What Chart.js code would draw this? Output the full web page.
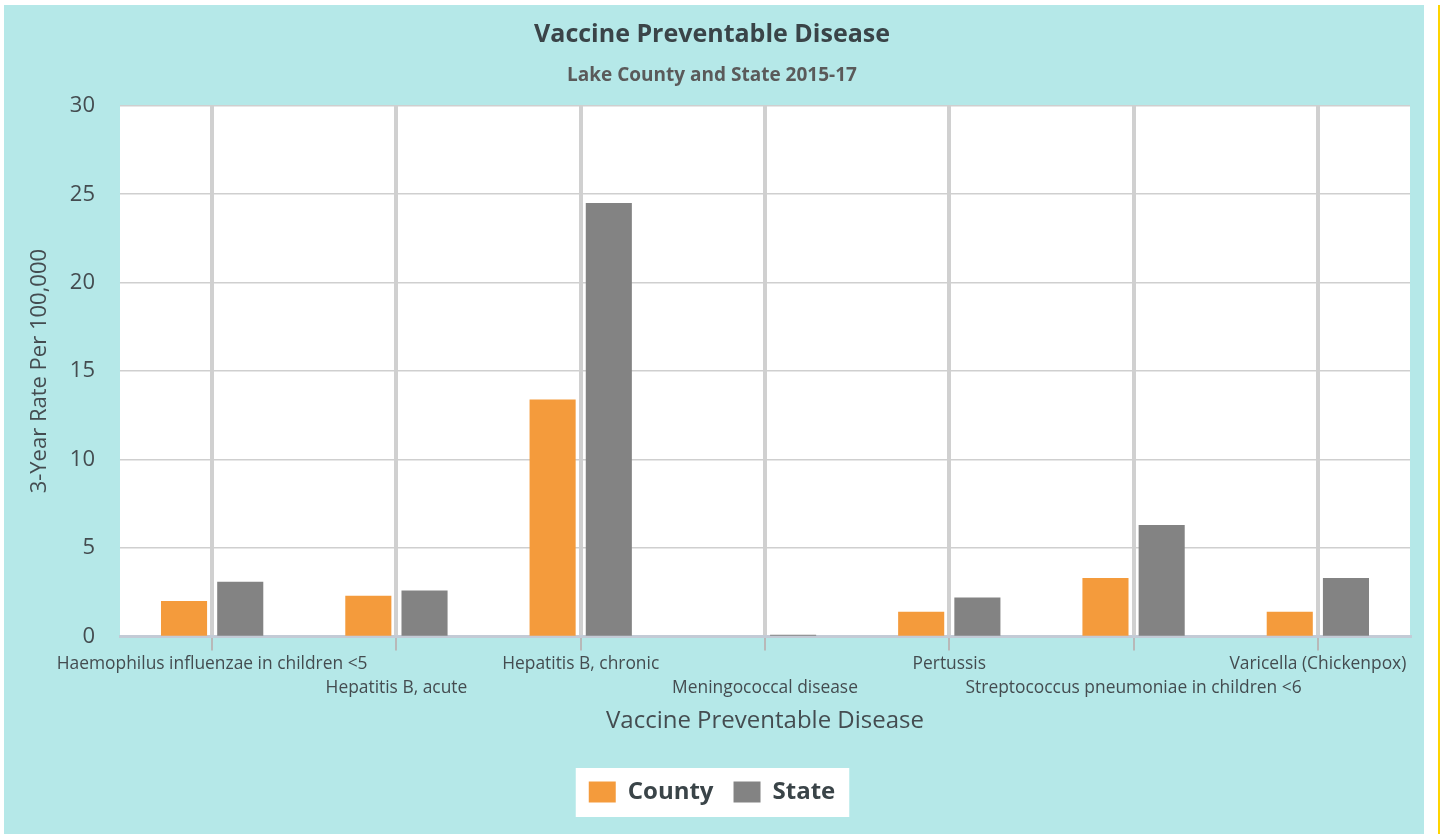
<!DOCTYPE html>
<html>
<head>
<meta charset="utf-8">
<script src="https://cdn.jsdelivr.net/npm/chart.js@4"></script>
<style>
  body { margin: 0; background: #ffffff; }
  #box { position: absolute; left: 4px; top: 5px; width: 1420px; height: 829px; background: #b5e8e8; }
  #rule { position: absolute; left: 1438px; top: 5px; width: 2px; height: 829px; background: #ffd400; }
</style>
</head>
<body>
<div id="box"><canvas id="vpdChart"></canvas></div>
<div id="rule"></div>
<script>
//data
const diseases = [
    'Haemophilus influenzae in children <5',
    'Hepatitis B, acute',
    'Hepatitis B, chronic',
    'Meningococcal disease',
    'Pertussis',
    'Streptococcus pneumoniae in children <6',
    'Varicella (Chickenpox)'
];
const countyRates = [2.0, 2.3, 13.4, 0, 1.4, 3.3, 1.4];
const stateRates = [3.1, 2.6, 24.5, 0.1, 2.2, 6.3, 3.3];

const font = "'Open Sans', 'Noto Sans', sans-serif";

//white plot area + white box behind the legend items
const plotBackground = {
    id: 'plotBackground',
    beforeDraw(chart) {
        const c = chart.ctx, a = chart.chartArea;
        c.save();
        c.fillStyle = '#ffffff';
        c.fillRect(a.left, a.top, a.right - a.left, a.bottom - a.top);
        const hits = chart.legend.legendHitBoxes;
        if (hits && hits.length) {
            const first = hits[0], last = hits[hits.length - 1];
            const x0 = first.left - 13, x1 = last.left + last.width + 14;
            const y0 = first.top - 12, y1 = first.top + first.height + 13;
            c.fillRect(x0, y0, x1 - x0, y1 - y0);
        }
        c.restore();
    }
};

const ctx = document.getElementById('vpdChart').getContext('2d');
const chart = new Chart(ctx, {
    type: 'bar',
    data: {
        labels: diseases,
        datasets: [{
            label: 'County',
            backgroundColor: '#f49b3c',
            data: countyRates
        }, {
            label: 'State',
            backgroundColor: '#838383',
            data: stateRates
        }]
    },
    options: {
        responsive: true,
        maintainAspectRatio: false,
        animation: false,
        categoryPercentage: 0.61,
        barPercentage: 0.82,
        layout: {
            padding: { left: 10, right: 14, top: 15, bottom: 20 }
        },
        plugins: {
            title: {
                display: true,
                text: 'Vaccine Preventable Disease',
                color: '#3a4448',
                font: { family: font, size: 25, weight: 'bold' },
                padding: { top: 0, bottom: 8 }
            },
            subtitle: {
                display: true,
                text: 'Lake County and State 2015-17',
                color: '#5a5a5a',
                font: { family: font, size: 19, weight: 'bold' },
                padding: { top: 6, bottom: 19 }
            },
            legend: {
                position: 'bottom',
                labels: {
                    boxWidth: 27,
                    boxHeight: 21,
                    padding: 20,
                    color: '#3a4448',
                    font: { family: font, size: 24, weight: 'bold' }
                }
            },
            tooltip: { enabled: false }
        },
        scales: {
            x: {
                // long first label may hang over the y axis, as in the original
                afterFit: (scale) => { scale.paddingLeft = 0; scale.paddingRight = 0; },
                grid: {
                    offset: false,
                    color: '#d0d0d0',
                    lineWidth: 4,
                    tickColor: '#b8b8b8',
                    tickWidth: 2,
                    tickLength: 14
                },
                border: { color: '#c3cbd6', width: 3 },
                ticks: {
                    autoSkip: false,
                    maxRotation: 0,
                    minRotation: 0,
                    padding: 1,
                    color: '#444c50',
                    font: { family: font, size: 17.4, lineHeight: 1.4 },
                    callback: (v, i) => i % 2 ? ['', diseases[i]] : diseases[i]
                },
                title: {
                    display: true,
                    text: 'Vaccine Preventable Disease',
                    color: '#444c50',
                    font: { family: font, size: 24 },
                    padding: { top: 6, bottom: 24 }
                }
            },
            y: {
                // chart.js counts tick padding twice in the width
                afterFit: (scale) => { scale.width = 106; },
                min: 0,
                max: 30,
                ticks: {
                    stepSize: 5,
                    padding: 25,
                    color: '#444c50',
                    font: { family: font, size: 22 }
                },
                grid: { color: '#cfcfcf', lineWidth: 1.5, drawTicks: false },
                border: { display: false },
                title: {
                    display: true,
                    text: '3-Year Rate Per 100,000',
                    color: '#444c50',
                    font: { family: font, size: 22 },
                    padding: { top: 13, bottom: 18 }
                }
            }
        }
    },
    plugins: [plotBackground]
});
</script>
</body>
</html>
